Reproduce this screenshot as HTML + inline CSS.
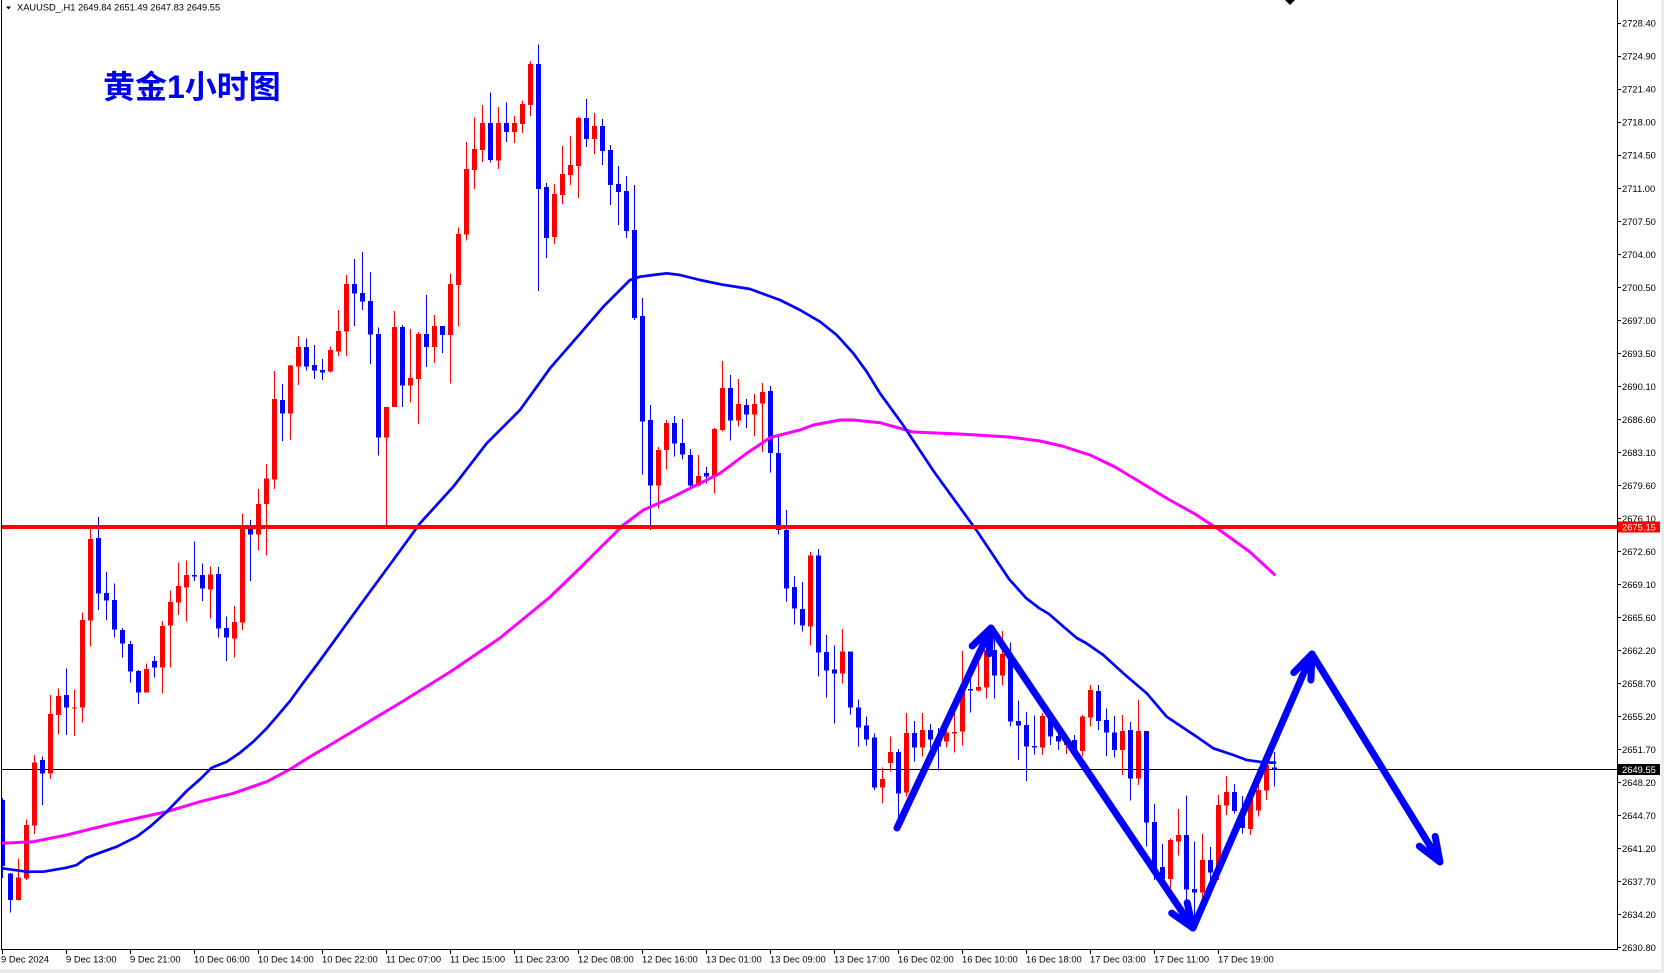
<!DOCTYPE html>
<html><head><meta charset="utf-8"><style>
html,body{margin:0;padding:0;background:#fff;}
svg{display:block;}
.ax{font-family:"Liberation Sans",sans-serif;font-size:9.4px;fill:#000;}
</style></head><body>
<svg width="1664" height="973" viewBox="0 0 1664 973" xmlns="http://www.w3.org/2000/svg">
<rect x="0" y="0" width="1664" height="973" fill="#fff"/>
<defs><clipPath id="cl"><rect x="1.5" y="0" width="1615.5" height="949"/></clipPath></defs>
<g clip-path="url(#cl)" shape-rendering="crispEdges">
<path fill="none" stroke="#ff0000" stroke-width="1" d="M18.5 858.3V900.7 M26.5 819.3V880 M34.5 755V834 M50.5 695V779 M58.5 688.3V734 M74.5 689.3V736 M82.5 612.3V722.7 M90.5 529V646.7 M146.5 663.3V692.7 M162.5 621V693.7 M170.5 590.3V667.7 M178.5 562.7V615 M186.5 560.3V621.7 M210.5 566.3V618.7 M234.5 606V657.7 M242.5 513.3V630 M258.5 489V550.7 M266.5 464V555.7 M274.5 371V489 M290.5 365V440 M298.5 336V385 M330.5 346.7V372.7 M338.5 310V356 M346.5 275V356 M386.5 407V525.7 M394.5 311V407 M410.5 329V402.7 M418.5 332V424 M434.5 315V363 M450.5 273.7V383.3 M458.5 227.7V326.7 M466.5 142V240.7 M474.5 117.7V189 M482.5 105V162 M498.5 107V169 M514.5 116V143 M522.5 100.7V133 M530.5 61V116 M554.5 184V244 M562.5 146V204 M570.5 136V185 M578.5 117V198 M594.5 113V154 M658.5 447V508.7 M666.5 420V469.7 M698.5 455V486.7 M714.5 428V493.7 M722.5 361V431.7 M738.5 379V426.7 M754.5 394V436 M762.5 383V452 M810.5 552V645.7 M842.5 629V683.7 M882.5 767.3V803.3 M890.5 736.7V771.7 M906.5 713V796.7 M922.5 713V756.7 M946.5 728V747.7 M954.5 713V752.7 M962.5 651V745.7 M978.5 656.7V691.7 M986.5 640V698.3 M1002.5 631V685.7 M1042.5 713V755 M1066.5 735V754 M1082.5 715V756.7 M1090.5 685V726.7 M1122.5 715V775 M1138.5 700V785 M1170.5 838.3V890 M1178.5 809V855.7 M1202.5 834V900.7 M1218.5 795V880 M1226.5 776V815 M1250.5 790V835 M1258.5 785V816.7 M1266.5 755V800"/>
<path fill="none" stroke="#ff0000" stroke-width="5" d="M18.5 877.3V900 M26.5 825V878.3 M34.5 762.3V825.7 M50.5 714V773.3 M58.5 696V715 M74.5 707.3V708.7 M82.5 620V707.7 M90.5 539V620.7 M146.5 669V692.7 M162.5 626V667.7 M170.5 602V625.7 M178.5 586V602.7 M186.5 575V587.7 M210.5 574.3V589.7 M234.5 622V638.7 M242.5 527V622.7 M258.5 504V534.3 M266.5 478.7V504 M274.5 399V479.7 M290.5 365.7V413.7 M298.5 347V366.7 M330.5 350V371.7 M338.5 331V351.7 M346.5 284V331.7 M386.5 407V437.7 M394.5 327V407 M410.5 378V385.7 M418.5 334V379 M434.5 326V347 M450.5 284V335 M458.5 234V285 M466.5 169V234.7 M474.5 149V170 M482.5 123V150 M498.5 123V160.7 M514.5 123V132 M522.5 104V124 M530.5 64V105 M554.5 194V237 M562.5 174V195 M570.5 165V175 M578.5 118V166 M594.5 126V139 M658.5 450V485.7 M666.5 423V450 M698.5 476V485.7 M714.5 429V476.7 M722.5 388V430 M738.5 404V420.7 M754.5 404V414.7 M762.5 392V403.7 M810.5 555.3V626.7 M842.5 651.7V673.7 M882.5 779V787.7 M890.5 752V763 M906.5 733V792.7 M922.5 730V747.7 M946.5 732.7V741.7 M954.5 732V733.5 M962.5 691.7V731.7 M978.5 687V690.7 M986.5 650V687.7 M1002.5 654V675.7 M1042.5 716V747.7 M1066.5 740V745 M1082.5 716.7V751 M1090.5 690V717.7 M1122.5 731V750 M1138.5 731V778.7 M1170.5 840V879 M1178.5 835V841.7 M1202.5 860V892.3 M1218.5 805V872.3 M1226.5 792V805.7 M1250.5 796.7V829 M1258.5 790V810.7 M1266.5 765V790.7"/>
<path fill="none" stroke="#0000ff" stroke-width="1" d="M2.5 798V878 M10.5 873V912.7 M42.5 756.7V805 M66.5 668.3V735 M98.5 517V610 M106.5 572V620 M114.5 583.3V637.7 M122.5 628V657.7 M130.5 641V682.3 M138.5 670V704 M154.5 656V677.7 M194.5 541.7V581 M202.5 563.3V601 M218.5 567V637.7 M226.5 616.7V661 M250.5 520V581 M282.5 384V441 M306.5 338.7V370.7 M314.5 345V379 M322.5 359V380 M354.5 259V326 M362.5 252V310 M370.5 272V364 M378.5 327.7V455.7 M402.5 325V407 M426.5 295V367 M442.5 326V353 M490.5 92.7V162.7 M506.5 102.7V142 M538.5 44.7V291 M546.5 183V258 M586.5 99V147 M602.5 119V165 M610.5 145V205 M618.5 166V225 M626.5 176V238 M634.5 185V320 M642.5 298V474.7 M650.5 405V530 M674.5 416V456.7 M682.5 419V459.7 M690.5 449V487.7 M706.5 467V483.7 M730.5 375V440.7 M746.5 399V428 M770.5 386V472.7 M778.5 437V534.7 M786.5 510V601.7 M794.5 576V624.7 M802.5 582V631.7 M818.5 549V676.7 M826.5 635V697.7 M834.5 645.7V723.7 M850.5 651.7V714.7 M858.5 699.7V746.7 M866.5 716.7V745.7 M874.5 733.7V790 M898.5 749V820 M914.5 721V761.7 M930.5 724V748 M938.5 728V770.7 M970.5 679V712.7 M994.5 633V698.7 M1010.5 642.7V726.7 M1018.5 700.7V760 M1026.5 712V781 M1034.5 715.7V754.3 M1050.5 713V745 M1058.5 730V750 M1074.5 735V753 M1098.5 685V730 M1106.5 708.3V756 M1114.5 716V757.7 M1130.5 722V800.7 M1146.5 731V846.7 M1154.5 804V880 M1162.5 844V886.7 M1186.5 795.7V903.3 M1194.5 841.7V920 M1210.5 847V883.3 M1234.5 784V813.3 M1242.5 796V833.3 M1274.5 751.8V786.5"/>
<path fill="none" stroke="#0000ff" stroke-width="5" d="M2.5 800V866 M10.5 873.3V900 M42.5 760V773.3 M66.5 695V707.7 M98.5 538V593.7 M106.5 593V600.7 M114.5 600V629.3 M122.5 630V643.7 M130.5 644V671.7 M138.5 671V692.7 M154.5 661V667.7 M194.5 575V576.7 M202.5 575V588.7 M218.5 574V628.7 M226.5 628V637.7 M250.5 527V534.3 M282.5 400V413.7 M306.5 347V366.7 M314.5 365V370.7 M322.5 370V372.7 M354.5 284V293.7 M362.5 293V301.7 M370.5 301V334.7 M378.5 334V437.7 M402.5 327V385.7 M426.5 334V347 M442.5 326V335 M490.5 123V160 M506.5 123V132 M538.5 64V189 M546.5 187V238 M586.5 118V139 M602.5 126V151 M610.5 150V185 M618.5 184V192 M626.5 191V231 M634.5 230V318 M642.5 316V421.7 M650.5 420V485.7 M674.5 423V443.7 M682.5 443V454.7 M690.5 455V485.7 M706.5 473V476.7 M730.5 388V420.7 M746.5 405V414.7 M770.5 391V453 M778.5 453V530 M786.5 530V588.7 M794.5 587V608.7 M802.5 609V625.7 M818.5 555.3V652.7 M826.5 652V670.7 M834.5 669.7V673.7 M850.5 651.7V707.7 M858.5 707.7V727.7 M866.5 725.7V739.7 M874.5 737.7V787.7 M898.5 752V793.7 M914.5 733V747.7 M930.5 730V739.7 M938.5 740V746.7 M970.5 689V690.7 M994.5 650V675.7 M1010.5 654V721.7 M1018.5 721V725.7 M1026.5 725V746.7 M1034.5 746V747.7 M1050.5 716V736.7 M1058.5 736V741.7 M1074.5 740V750 M1098.5 691V721 M1106.5 720V732.7 M1114.5 732.3V750 M1130.5 730V778.7 M1146.5 731V822.7 M1154.5 822V870 M1162.5 867V879 M1186.5 835V889.7 M1194.5 889V892.3 M1210.5 860V872.3 M1234.5 792V811 M1242.5 811V828 M1274.5 767.4V770"/>
</g>
<g clip-path="url(#cl)" fill="none" stroke-linejoin="round" stroke-linecap="round">
<polyline stroke="#ff00ff" stroke-width="3" points="2,843.3 33,841.7 66.7,835 100,826.7 133.3,819 166.7,811.7 200,801.7 233.3,793.3 266.7,781.7 290,769.3 310,756.7 330,745 360,727 400,703 450,672 500,638 550,597 580,568 600,548 623.3,525 643.3,510 670,498.3 690,488.3 720,473.3 746.7,453.3 770,437.7 780,435 800,430 813.3,425 840,420 853.3,420 880,422.7 913,432 960,434 1009,437 1040,441 1062,446 1090,455 1115,467 1140,482 1168,499 1195,514 1221,531 1250,552 1274.4,574.5"/>
<polyline stroke="#0000ff" stroke-width="2.7" points="2,868.3 26.7,871.7 43.3,871.7 66.7,867.7 76.7,865 86.7,857.7 100,852.7 116.7,846.7 136.7,836.7 150,826.7 166.7,811.7 186.7,791 200,779.3 211.7,767.7 226.7,761.7 240,752.7 253.3,741.7 266.7,728.3 276.7,716.7 290,701 303.3,682.7 316.7,665 330,646.7 361,604 393.3,560 420,523.3 453.3,486.7 486.7,443.3 520,410 550,368.3 583.3,330 603.3,306.7 630,280 640,276.7 653.3,275 666.7,273.3 680,275 700,280 722,284.6 750,289 780,300 800,310 820,321.7 836.7,335 853.3,353.3 866.7,371.7 880,393.3 903,425 934.6,472.6 977,531 1009,579 1026,598 1039,608 1049,614 1062.7,626 1076.7,638 1086,643 1103.3,655 1123.3,673.3 1146.7,693.3 1166.7,716.7 1196.7,736.7 1213.3,748.3 1233.3,755 1246.7,760 1263.3,762.3 1275,762.7"/>
</g>
<rect x="1.5" y="525" width="1615.5" height="4" fill="#ff0000"/>
<rect x="1.5" y="769" width="1615.5" height="1" fill="#000"/>
<g fill="none" stroke="#0000ff" stroke-width="7" stroke-linecap="round" stroke-linejoin="round">
<path d="M897 828L991 628M972.2 646L991 628L989.1 653.9"/>
<path d="M991 628L1193 928M1187.2 902.7L1193 928L1171.7 913.1"/>
<path d="M1193 928L1312 654M1293.8 672.6L1312 654L1310.9 680"/>
<path d="M1312 654L1440 862M1435.2 836.4L1440 862L1419.3 846.2"/>
</g>
<g shape-rendering="crispEdges">
<rect x="1" y="0" width="1" height="950" fill="#000"/>
<rect x="1617" y="0" width="1" height="950" fill="#000"/>
<rect x="1" y="949" width="1617" height="1" fill="#000"/>
<path stroke="#000" stroke-width="1" d="M1617 23.5H1621M1617 56.5H1621M1617 89.5H1621M1617 122.5H1621M1617 155.5H1621M1617 188.5H1621M1617 221.5H1621M1617 254.5H1621M1617 287.5H1621M1617 320.5H1621M1617 353.5H1621M1617 386.5H1621M1617 419.5H1621M1617 452.5H1621M1617 485.5H1621M1617 518.5H1621M1617 551.5H1621M1617 584.5H1621M1617 617.5H1621M1617 650.5H1621M1617 683.5H1621M1617 716.5H1621M1617 749.5H1621M1617 782.5H1621M1617 815.5H1621M1617 848.5H1621M1617 881.5H1621M1617 914.5H1621M1617 947.5H1621"/>
<path stroke="#000" stroke-width="1" d="M2.5 950V954M66.5 950V954M130.5 950V954M194.5 950V954M258.5 950V954M322.5 950V954M386.5 950V954M450.5 950V954M514.5 950V954M578.5 950V954M642.5 950V954M706.5 950V954M770.5 950V954M834.5 950V954M898.5 950V954M962.5 950V954M1026.5 950V954M1090.5 950V954M1154.5 950V954M1218.5 950V954"/>
<rect x="1661" y="0" width="3" height="973" fill="#ececec"/>
<rect x="0" y="969" width="1664" height="4" fill="#ececec"/>
</g>
<polygon points="1285,0 1295,0 1290,5" fill="#000"/>
<polygon points="6,6.5 11,6.5 8.5,9.5" fill="#000"/>
<text class="ax" x="17" y="10.5" style="font-size:9.3px">XAUUSD_,H1  2649.84 2651.49 2647.83 2649.55</text>
<text x="103" y="98" fill="#0000f0" font-weight="bold" style="font-family:'Liberation Sans','Noto Sans CJK SC',sans-serif;font-size:32px;font-weight:bold">黄金1小时图</text>
<g class="ax">
<text x="1622" y="26.7">2728.40</text>
<text x="1622" y="59.7">2724.90</text>
<text x="1622" y="92.7">2721.40</text>
<text x="1622" y="125.7">2718.00</text>
<text x="1622" y="158.7">2714.50</text>
<text x="1622" y="191.8">2711.00</text>
<text x="1622" y="224.8">2707.50</text>
<text x="1622" y="257.8">2704.00</text>
<text x="1622" y="290.8">2700.50</text>
<text x="1622" y="323.8">2697.00</text>
<text x="1622" y="356.8">2693.50</text>
<text x="1622" y="389.8">2690.10</text>
<text x="1622" y="422.8">2686.60</text>
<text x="1622" y="455.8">2683.10</text>
<text x="1622" y="488.8">2679.60</text>
<text x="1622" y="521.9">2676.10</text>
<text x="1622" y="554.9">2672.60</text>
<text x="1622" y="587.9">2669.10</text>
<text x="1622" y="620.9">2665.60</text>
<text x="1622" y="653.9">2662.20</text>
<text x="1622" y="686.9">2658.70</text>
<text x="1622" y="719.9">2655.20</text>
<text x="1622" y="752.9">2651.70</text>
<text x="1622" y="785.9">2648.20</text>
<text x="1622" y="818.9">2644.70</text>
<text x="1622" y="852">2641.20</text>
<text x="1622" y="885">2637.70</text>
<text x="1622" y="918">2634.20</text>
<text x="1622" y="951">2630.80</text>
</g>
<rect x="1618" y="521.5" width="42" height="11" fill="#ff0000"/>
<text class="ax" x="1622" y="530.5" style="fill:#fff">2675.15</text>
<rect x="1618" y="764" width="42" height="11" fill="#000"/>
<text class="ax" x="1622" y="773" style="fill:#fff">2649.55</text>
<g class="ax">
<text x="1" y="962.5">9 Dec 2024</text>
<text x="66" y="962.5">9 Dec 13:00</text>
<text x="130" y="962.5">9 Dec 21:00</text>
<text x="194" y="962.5">10 Dec 06:00</text>
<text x="258" y="962.5">10 Dec 14:00</text>
<text x="322" y="962.5">10 Dec 22:00</text>
<text x="386" y="962.5">11 Dec 07:00</text>
<text x="450" y="962.5">11 Dec 15:00</text>
<text x="514" y="962.5">11 Dec 23:00</text>
<text x="578" y="962.5">12 Dec 08:00</text>
<text x="642" y="962.5">12 Dec 16:00</text>
<text x="706" y="962.5">13 Dec 01:00</text>
<text x="770" y="962.5">13 Dec 09:00</text>
<text x="834" y="962.5">13 Dec 17:00</text>
<text x="898" y="962.5">16 Dec 02:00</text>
<text x="962" y="962.5">16 Dec 10:00</text>
<text x="1026" y="962.5">16 Dec 18:00</text>
<text x="1090" y="962.5">17 Dec 03:00</text>
<text x="1154" y="962.5">17 Dec 11:00</text>
<text x="1218" y="962.5">17 Dec 19:00</text>
</g>
</svg>
</body></html>
